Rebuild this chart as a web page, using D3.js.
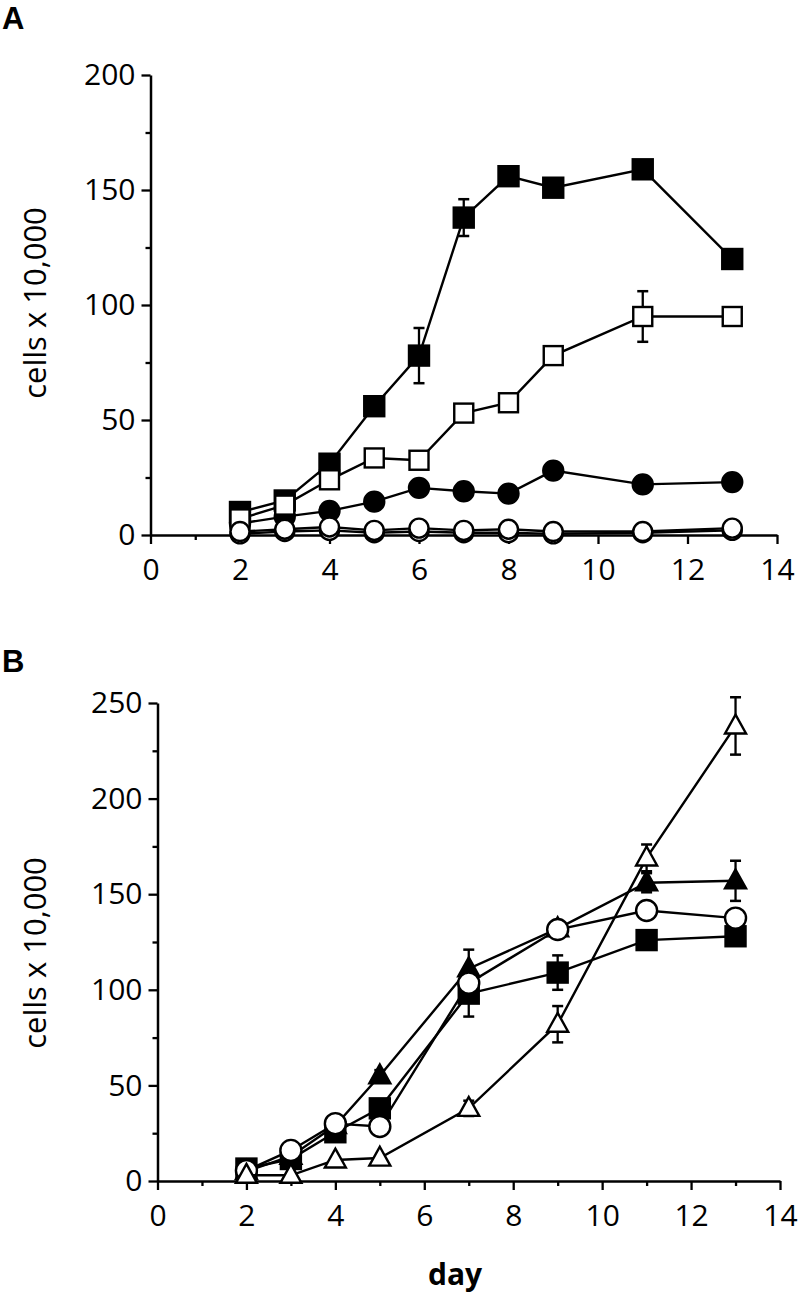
<!DOCTYPE html>
<html>
<head>
<meta charset="utf-8">
<script src="https://cdn.jsdelivr.net/npm/d3@7"></script>
<style>
  html, body { margin: 0; padding: 0; background: #fff; }
  svg { display: block; }
  text { font-family: "Open Sans", "DejaVu Sans", sans-serif; fill: #000; }
</style>
</head>
<body>
<svg id="chart" width="800" height="1301"></svg>
<script>
// ---------- Panel A data ----------
const daysA = [2, 3, 4, 5, 6, 7, 8, 9, 11, 13];
const aFilledSquare = [10, 15, 31, 56, 78, 138, 156, 151, 159, 120];
const aFilledSquareErr = [0, 0, 0, 0, 12, 8, 0, 0, 0, 0];
const aOpenSquare = [7, 13, 24, 33.5, 32.5, 53, 57.5, 78, 95, 95];
const aOpenSquareErr = [0, 0, 0, 0, 0, 0, 0, 0, 11, 0];
const aFilledCircle = [5, 8, 10.5, 14.5, 20.5, 19, 18, 28, 22, 23];
const aOpenCircle = [1.5, 2.5, 3.5, 2, 3, 2, 2.5, 1.5, 1.5, 3];
const aOpenCircle2 = [0.5, 1.5, 2, 1, 1.5, 1, 1, 0.5, 1, 2];
const yTicksA = [0, 50, 100, 150, 200];
const yMinorA = [25, 75, 125, 175];

// ---------- Panel B data ----------
const daysB = [2, 3, 4, 5, 7, 9, 11, 13];
const bFilledSquare = [6.5, 11.5, 25.5, 38, 98, 109, 126, 128];
const bFilledSquareErr = [0, 0, 0, 0, 12, 9, 0, 3];
const bFilledTriangle = [5, 13, 29, 55, 111, 132, 156, 157];
const bFilledTriangleErr = [0, 0, 0, 3, 10, 0, 5, 10.5];
const bOpenCircle = [5.5, 16, 30, 28.5, 103.5, 131.5, 141.5, 137.5];
const bOpenTriangle = [3, 3, 11, 12, 38, 82, 169, 238];
const bOpenTriangleErr = [0, 0, 0, 0, 4, 9.5, 7, 15];
const yTicksB = [0, 50, 100, 150, 200, 250];
const yMinorB = [25, 75, 125, 175, 225];

const xTicks = [0, 2, 4, 6, 8, 10, 12, 14];
const xMinor = [1, 3, 5, 7, 9, 11, 13];

const svg = d3.select("#chart");

function drawPanel(cfg) {
  const x = d3.scaleLinear().domain([0, 14]).range([cfg.x0, cfg.x1]);
  const y = d3.scaleLinear().domain([0, cfg.ymax]).range([cfg.y0, cfg.y1]);
  const g = svg.append("g");

  // y axis
  g.append("g").attr("transform", `translate(${cfg.x0},0)`)
    .call(d3.axisLeft(y).tickValues(cfg.yTicks).tickSize(9).tickSizeOuter(0).tickPadding(6).tickFormat(d3.format("d")));
  g.append("g").attr("transform", `translate(${cfg.x0},0)`)
    .call(d3.axisLeft(y).tickValues(cfg.yMinor).tickSize(5).tickSizeOuter(0).tickFormat(""))
    .select(".domain").remove();
  // x axis
  g.append("g").attr("transform", `translate(0,${cfg.y0})`)
    .call(d3.axisBottom(x).tickValues(xTicks).tickSize(9).tickSizeOuter(0).tickPadding(15).tickFormat(d3.format("d")));
  g.append("g").attr("transform", `translate(0,${cfg.y0})`)
    .call(d3.axisBottom(x).tickValues(xMinor).tickSize(5).tickSizeOuter(0).tickFormat(""))
    .select(".domain").remove();

  g.selectAll(".domain").attr("stroke", "#000").attr("stroke-width", 2.5);
  g.selectAll(".tick line").attr("stroke", "#000").attr("stroke-width", 2.3);
  g.selectAll(".tick text").style("font-size", "30px").style("font-family", '"Open Sans", sans-serif').attr("fill", "#000");

  // y label
  g.append("text")
    .attr("transform", `translate(${cfg.labelX},${cfg.labelY}) rotate(-90)`)
    .attr("text-anchor", "middle")
    .style("font-size", "31px")
    .text("cells x 10,000");

  // panel letter
  g.append("text").attr("x", 2).attr("y", cfg.letterY)
    .style("font-size", "31px").style("font-weight", "bold")
    .style("font-family", '"Liberation Sans", Arial, sans-serif')
    .text(cfg.letter);

  const line = d3.line().x(d => x(d.day)).y(d => y(d.v));

  cfg.series.forEach(s => {
    const pts = cfg.days.map((d, i) => ({ day: d, v: s.values[i], e: s.err ? s.err[i] : 0 }));
    const sg = g.append("g");
    // error bars
    pts.filter(p => p.e > 0).forEach(p => {
      const cx = x(p.day), ty = y(p.v + p.e), by = y(p.v - p.e);
      sg.append("line").attr("x1", cx).attr("x2", cx).attr("y1", ty).attr("y2", by)
        .attr("stroke", "#000").attr("stroke-width", 2.3);
      [ty, by].forEach(yy => sg.append("line").attr("x1", cx - 5.5).attr("x2", cx + 5.5)
        .attr("y1", yy).attr("y2", yy).attr("stroke", "#000").attr("stroke-width", 2.5));
    });
    sg.append("path").datum(pts).attr("d", line)
      .attr("fill", "none").attr("stroke", "#000").attr("stroke-width", 2.4);
    const fill = s.filled ? "#000" : "#fff";
    const sz = s.size;
    pts.forEach(p => {
      const cx = x(p.day), cy = y(p.v);
      if (s.shape === "square") {
        sg.append("rect").attr("x", cx - sz / 2).attr("y", cy - sz / 2)
          .attr("width", sz).attr("height", sz)
          .attr("fill", fill).attr("stroke", "#000").attr("stroke-width", 2.4);
      } else if (s.shape === "circle") {
        sg.append("circle").attr("cx", cx).attr("cy", cy).attr("r", sz / 2)
          .attr("fill", fill).attr("stroke", "#000").attr("stroke-width", 2.4);
      } else {
        const h = sz * 0.9;
        sg.append("path")
          .attr("d", `M${cx},${cy - h * 0.6} L${cx + sz / 2},${cy + h * 0.4} L${cx - sz / 2},${cy + h * 0.4} Z`)
          .attr("fill", fill).attr("stroke", "#000").attr("stroke-width", 2.4).attr("stroke-linejoin", "miter");
      }
    });
  });
}

drawPanel({
  letter: "A", letterY: 29,
  x0: 150.5, x1: 777, y0: 535, y1: 75, ymax: 200,
  yTicks: yTicksA, yMinor: yMinorA,
  labelX: 46, labelY: 303,
  days: daysA,
  series: [
    { values: aFilledSquare, err: aFilledSquareErr, shape: "square", filled: true, size: 20 },
    { values: aFilledCircle, shape: "circle", filled: true, size: 20 },
    { values: aOpenSquare, err: aOpenSquareErr, shape: "square", filled: false, size: 19 },
    { values: aOpenCircle2, shape: "circle", filled: false, size: 19 },
    { values: aOpenCircle, shape: "circle", filled: false, size: 19 }
  ]
});

drawPanel({
  letter: "B", letterY: 672,
  x0: 157.5, x1: 780, y0: 1181, y1: 703, ymax: 250,
  yTicks: yTicksB, yMinor: yMinorB,
  labelX: 46, labelY: 953,
  days: daysB,
  series: [
    { values: bFilledSquare, err: bFilledSquareErr, shape: "square", filled: true, size: 20 },
    { values: bFilledTriangle, err: bFilledTriangleErr, shape: "triangle", filled: true, size: 21 },
    { values: bOpenCircle, shape: "circle", filled: false, size: 21 },
    { values: bOpenTriangle, err: bOpenTriangleErr, shape: "triangle", filled: false, size: 21 }
  ]
});

svg.append("text").attr("x", 455).attr("y", 1285)
  .attr("text-anchor", "middle")
  .style("font-size", "30px").style("font-weight", "bold")
  .text("day");
</script>
</body>
</html>
